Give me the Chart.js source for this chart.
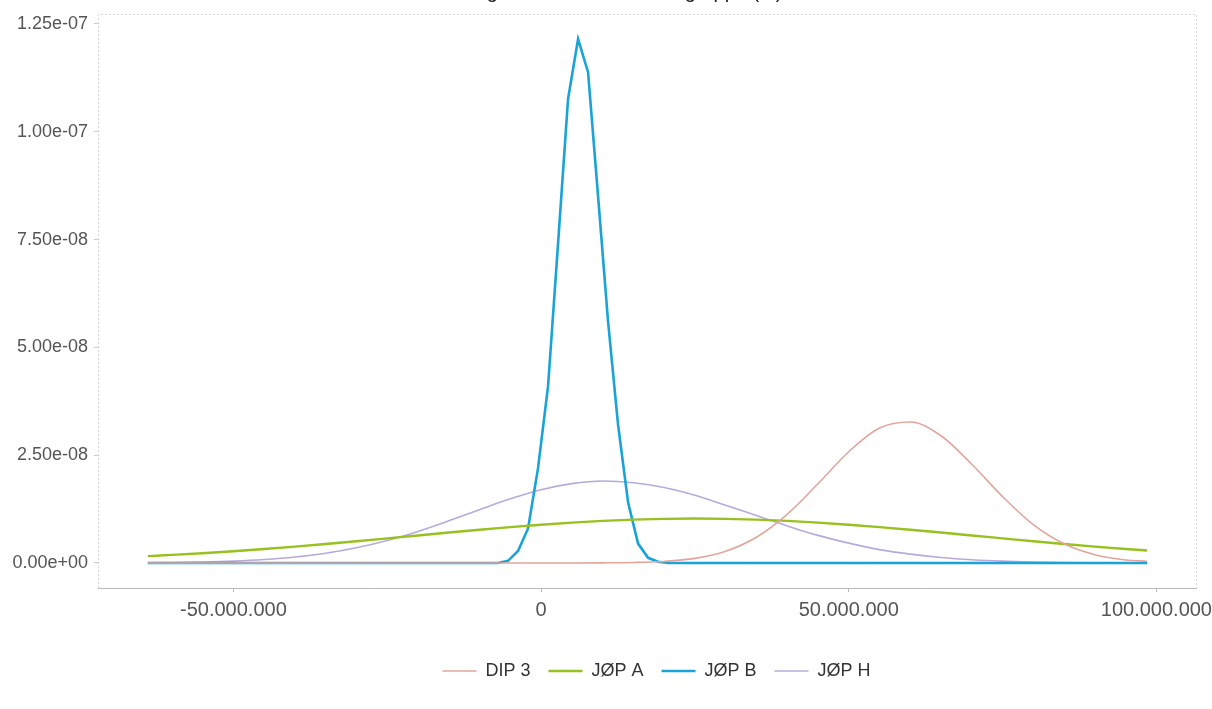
<!DOCTYPE html>
<html>
<head>
<meta charset="utf-8">
<script src="https://cdn.jsdelivr.net/npm/chart.js@4/dist/chart.umd.min.js"></script>
<style>
  html, body { margin: 0; padding: 0; background: #fff; overflow: hidden; width: 1212px; height: 709px; }
  #wrap { position: absolute; left: 0; top: -20px; }
</style>
</head>
<body>
<div id="wrap"><canvas id="line-chart" width="1257" height="729"></canvas></div>
<script>
// x in millions, y in units of 1e-8
const titleText = "Fordeling af indkomst for hver gruppe (kr)";
const seriesNames = ["DIP 3", "JØP A", "JØP B", "JØP H"];
const seriesColors = ["#e2a59c", "#96c11f", "#1aa3d6", "#b7aadb"];
const seriesWidths = [1.6, 2.4, 2.6, 1.6];

const xSmooth = [-63.9, -60, -55, -50, -45, -40, -35, -30, -25, -20, -15, -10, -5, 0, 5, 10, 15, 20,
  25, 30, 35, 40, 45, 50, 55, 60, 65, 70, 75, 80, 85, 90, 95, 98.5];

const dip3 = [0, 0, 0, 0, 0, 0, 0, 0, 0, 0, 0, 0, 0, 0, 0, 0.003, 0.011, 0.036,
  0.107, 0.272, 0.597, 1.127, 1.836, 2.58, 3.13, 3.27, 2.95, 2.29, 1.54, 0.89, 0.444, 0.191, 0.071, 0.04];

const jopA = [0.159, 0.187, 0.227, 0.272, 0.323, 0.379, 0.44, 0.504, 0.571, 0.638, 0.706, 0.771, 0.832, 0.888, 0.937, 0.977, 1.006, 1.024,
  1.03, 1.024, 1.006, 0.977, 0.937, 0.888, 0.832, 0.771, 0.706, 0.638, 0.571, 0.504, 0.44, 0.379, 0.323, 0.29];

const jopH = [0.006, 0.011, 0.023, 0.044, 0.08, 0.138, 0.226, 0.352, 0.521, 0.732, 0.977, 1.236, 1.487, 1.7, 1.84, 1.9, 1.86, 1.75,
  1.57, 1.34, 1.1, 0.86, 0.64, 0.46, 0.31, 0.205, 0.128, 0.076, 0.043, 0.024, 0.013, 0.007, 0.004, 0.002];

const xB = [-63.9, -7.0, -5.37, -3.74, -2.11, -0.49, 1.14, 2.76, 4.39, 6.02, 7.64, 9.27, 10.89, 12.52, 14.15, 15.77, 17.4, 19.02, 20.65, 98.5];
const jopB = [0, 0, 0.05, 0.28, 0.8, 2.2, 4.1, 7.4, 10.76, 12.15, 11.38, 8.5, 5.6, 3.2, 1.4, 0.45, 0.12, 0.03, 0, 0];

const xTicks = [-50e6, 0, 50e6, 100e6];
const yTicks = [0, 2.5e-8, 5e-8, 7.5e-8, 1e-7, 1.25e-7];

function pts(xs, ys) {
  return xs.map((x, i) => ({ x: x * 1e6, y: ys[i] * 1e-8 }));
}

function fmtExp(v) {
  let parts = v.toExponential(2).split("e");
  let e = parts[1];
  return parts[0] + "e" + e[0] + e.slice(1).padStart(2, "0");
}

function fmtDots(v) {
  let s = String(Math.abs(Math.round(v))).replace(/\B(?=(\d{3})+(?!\d))/g, ".");
  return (v < 0 ? "-" : "") + s;
}

const allData = [pts(xSmooth, dip3), pts(xSmooth, jopA), pts(xB, jopB), pts(xSmooth, jopH)];

const datasets = [];
for (let i = 0; i < seriesNames.length; i++) {
  datasets.push({
    label: seriesNames[i],
    data: allData[i],
    borderColor: seriesColors[i],
    backgroundColor: seriesColors[i],
    borderWidth: seriesWidths[i],
    pointRadius: 0,
    fill: false,
    tension: i == 2 ? 0 : 0.4,
    cubicInterpolationMode: i == 2 ? "default" : "monotone"
  });
}

const frame = {
  id: "frame",
  afterLayout(chart) {
    // legend sits centred under the plot area, not the whole canvas
    chart.legend.left += 58;
    chart.legend.right += 58;
  },
  beforeDatasetsDraw(chart) {
    const a = chart.chartArea;
    const ctx = chart.ctx;
    ctx.save();
    ctx.strokeStyle = "#d4d4d4";
    ctx.lineWidth = 1;
    ctx.setLineDash([2, 2]);
    ctx.beginPath();
    ctx.moveTo(a.left + 0.5, a.bottom);
    ctx.lineTo(a.left + 0.5, a.top + 0.5);
    ctx.lineTo(a.right - 0.5, a.top + 0.5);
    ctx.lineTo(a.right - 0.5, a.bottom);
    ctx.stroke();
    ctx.setLineDash([]);
    ctx.strokeStyle = "#b8b8b8";
    ctx.beginPath();
    ctx.moveTo(a.left, a.bottom + 0.5);
    ctx.lineTo(a.right, a.bottom + 0.5);
    ctx.stroke();
    ctx.restore();
  }
};

Chart.defaults.font.family = "'Liberation Sans', Arial, sans-serif";

let chart = new Chart(document.getElementById("line-chart"), {
  type: "line",
  data: { datasets: datasets },
  plugins: [frame],
  options: {
    responsive: false,
    animation: false,
    layout: { padding: { left: 0, right: 60, top: 0, bottom: 19 } },
    plugins: {
      title: {
        display: true,
        text: titleText,
        color: "#222",
        font: { size: 20, weight: "normal" },
        padding: { top: 0, bottom: 10 }
      },
      legend: {
        position: "bottom",
        labels: {
          usePointStyle: true,
          pointStyle: "line",
          pointStyleWidth: 34,
          color: "#333",
          font: { size: 18 },
          padding: 18
        }
      },
      tooltip: { enabled: false }
    },
    scales: {
      x: {
        type: "linear",
        min: -72e6,
        max: 106.6e6,
        grid: { display: true, drawOnChartArea: false, color: "#b8b8b8", tickLength: 4 },
        border: { display: false },
        ticks: { color: "#555", font: { size: 20 }, padding: 6, maxRotation: 0, callback: v => fmtDots(v) },
        afterBuildTicks: s => { s.ticks = xTicks.map(v => ({ value: v })); },
        afterFit: s => { s.height = 56; }
      },
      y: {
        min: -0.58e-8,
        max: 12.73e-8,
        grid: { display: true, drawOnChartArea: false, color: "#c8c8c8", tickLength: 4 },
        border: { display: false },
        ticks: { color: "#555", font: { size: 18 }, padding: 6, callback: v => fmtExp(v) },
        afterBuildTicks: s => { s.ticks = yTicks.map(v => ({ value: v })); },
        afterFit: s => { s.width = 98; }
      }
    }
  }
});
</script>
</body>
</html>
